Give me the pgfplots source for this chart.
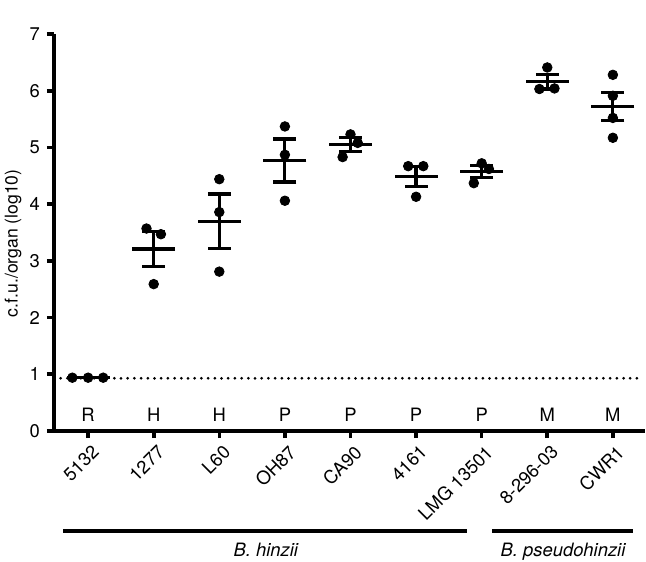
\documentclass[border=0pt]{standalone}
\usepackage{pgfplots}
\pgfplotsset{compat=1.18}
\usepackage{pgfplotstable}
\usepackage{fontspec}
\setmainfont{TeX Gyre Heros}
\newcommand{\lf}{\fontsize{9.2}{11}\selectfont}
\pgfplotstableread{
x y
0.76 0.94
1.00 0.94
1.23 0.94
1.89 3.57
2.11 3.47
2.00 2.59
3.00 4.44
3.00 3.86
3.00 2.81
4.00 5.37
4.00 4.87
4.00 4.06
5.00 5.23
5.11 5.08
4.88 4.83
5.88 4.67
6.11 4.67
6.00 4.13
7.00 4.72
7.11 4.62
6.88 4.37
8.00 6.41
7.88 6.03
8.11 6.04
9.00 6.28
9.00 5.91
9.00 5.52
9.00 5.17
}\points
\pgfplotstableread{
x m e
1 0.94 0.00
2 3.21 0.31
3 3.70 0.48
4 4.77 0.38
5 5.05 0.12
6 4.49 0.18
7 4.57 0.105
8 6.16 0.13
9 5.72 0.25
}\means
\begin{document}
\begin{tikzpicture}
\path[use as bounding box] (-27pt,-65pt) rectangle (296pt,215.5pt);
\begin{axis}[
  at={(0,0)}, anchor=south west,
  scale only axis, width=295.5pt, height=198.5pt,
  xmin=0.48, xmax=9.49, ymin=0, ymax=7,
  axis x line*=bottom, axis y line*=left,
  axis line style={line width=2pt, -},
  xtick={1,...,9},
  xticklabels={5132,1277,L60,OH87,CA90,4161,LMG 13501,8-296-03,CWR1},
  ytick={0,...,7},
  tick align=outside,
  major tick length=3.5pt,
  tick style={line width=1.8pt, black},
  x tick label style={rotate=45, anchor=north east, font=\lf, inner sep=1pt, yshift=-2pt},
  y tick label style={font=\lf},
  /pgf/number format/assume math mode=true,
  clip=false,
]
\addplot[line width=1.5pt, dash pattern=on 0pt off 3.35pt, line cap=round] coordinates {(0.48,0.93) (9.42,0.93)};
\addplot[only marks, mark=-, mark size=10.75pt, mark options={line width=1.6pt},
  error bars/.cd, y dir=both, y explicit, error mark=|,
  error mark options={mark size=5.75pt, line width=1.6pt},
  error bar style={line width=1.6pt}]
  table[x=x, y=m, y error=e] {\means};
\addplot[only marks, mark=*, mark size=2.4pt, black] table[x=x,y=y] {\points};
\foreach \i/\t in {1/R,2/H,3/H,4/P,5/P,6/P,7/P,8/M,9/M}{
  \edef\tmp{\noexpand\node[anchor=base, font=\noexpand\lf] at (axis cs:\i,0.165) {\t};}
  \tmp
}
\node[rotate=90, anchor=center, font=\fontsize{8.8}{10.5}\selectfont] at (axis cs:-0.143,3.31) {c.f.u./organ (log10)};
\draw[line width=2pt] (axis cs:0.62,-1.755) -- (axis cs:6.78,-1.755);
\draw[line width=2pt] (axis cs:7.16,-1.77) -- (axis cs:9.30,-1.77);
\node[anchor=base, font=\lf\itshape] at (axis cs:3.71,-2.217) {B. hinzii};
\node[anchor=base, font=\lf\itshape] at (axis cs:8.24,-2.217) {B. pseudohinzii};
\end{axis}
\end{tikzpicture}
\end{document}
